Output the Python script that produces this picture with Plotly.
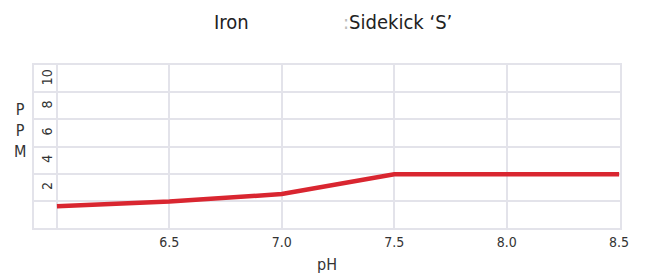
import plotly.graph_objects as go

ph = [6.0, 6.5, 7.0, 7.5, 8.0, 8.5]
ppm = [1.6, 1.95, 2.5, 3.95, 3.95, 3.95]

x_tickvals = [6.0, 6.5, 7.0, 7.5, 8.0, 8.5]
x_ticktext = ["", "6.5", "7.0", "7.5", "8.0", "8.5"]
y_tickvals = [2, 4, 6, 8, 10]
y_ticktext = ["2", "4", "6", "8", "10"]

FONT = "DejaVu Sans Condensed, sans-serif"
GRID = "#e3e3ea"

fig = go.Figure()
fig.add_trace(go.Scatter(
    x=ph, y=ppm, mode="lines",
    line=dict(color="#d92630", width=4.5),
    hoverinfo="skip", showlegend=False,
))

# page body has an 8px default margin; figure sized to fit the 646x274 window
fig.update_layout(
    width=638, height=266,
    margin=dict(l=26, r=26, t=57, b=46),
    paper_bgcolor="white", plot_bgcolor="white",
    font=dict(family=FONT, color="#333"),
    xaxis=dict(
        range=[5.898, 8.504], automargin=False,
        tickvals=x_tickvals, ticktext=x_ticktext,
        showgrid=True, gridcolor=GRID, gridwidth=1.5,
        showline=True, linecolor=GRID, linewidth=1.5, mirror=True,
        zeroline=False, ticks="",
        tickfont=dict(size=14, color="#333"),
        title=dict(text="pH", font=dict(size=16, color="#333"), standoff=14),
    ),
    yaxis=dict(
        range=[0, 12], automargin=False,
        tickvals=y_tickvals, ticktext=y_ticktext,
        showgrid=True, gridcolor=GRID, gridwidth=1.5,
        showline=True, linecolor=GRID, linewidth=1.5, mirror=True,
        zeroline=False, ticks="",
        tickangle=-90,
        ticklabelposition="inside top",
        ticklabelshift=-3,
        tickfont=dict(size=14, color="#333"),
    ),
    annotations=[
        dict(text="Iron", xref="paper", yref="paper", x=(232 - 34) / 586, y=1 + (65 - 22) / 163,
             xanchor="center", yanchor="middle", showarrow=False,
             font=dict(size=20, color="#222", family=FONT)),
        dict(text="<span style='color:#bbb'>:</span>Sidekick ‘S’", xref="paper", yref="paper",
             x=(341 - 34) / 586, y=1 + (65 - 22) / 163,
             xanchor="left", yanchor="middle", showarrow=False,
             font=dict(size=20, color="#222", family=FONT)),
        dict(text="P<br>P<br>M", xref="paper", yref="paper", x=(20 - 34) / 586, y=(228 - 130) / 163,
             xanchor="center", yanchor="middle", showarrow=False, align="center",
             font=dict(size=16, color="#333", family=FONT)),
    ],
)

fig.write_html("out.html")
